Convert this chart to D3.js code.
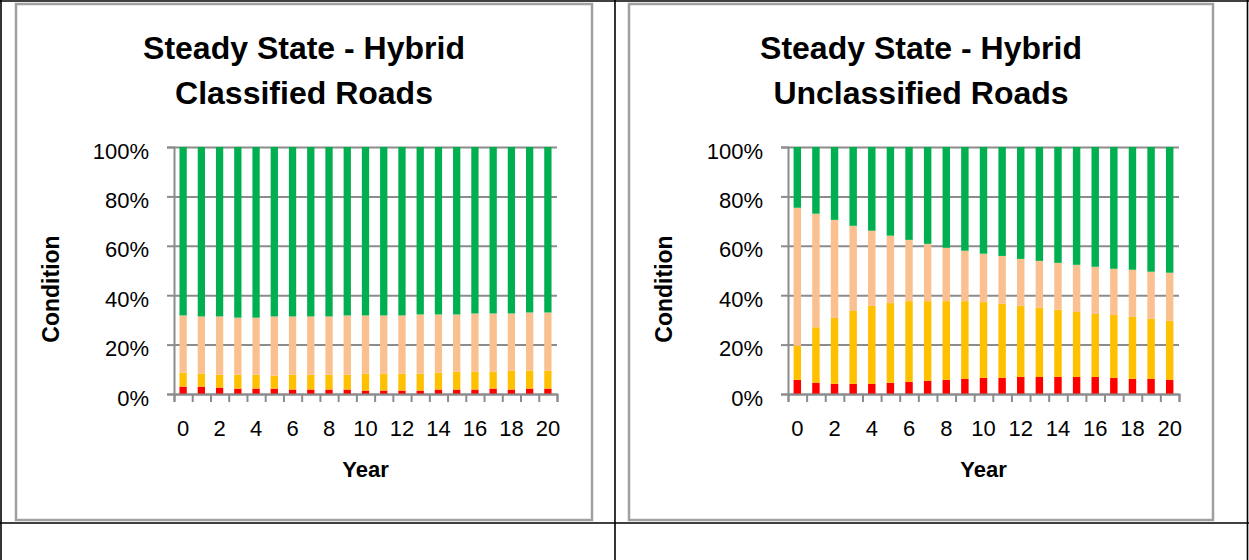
<!DOCTYPE html>
<html lang="en">
  <head>
    <meta charset="utf-8" />
    <title>Steady State - Hybrid</title>
    <script src="https://d3js.org/d3.v7.min.js"></script>
    <style>
      body { margin: 0; background: #fff; }
      text { font-family: "Liberation Sans", Arial, sans-serif; fill: #000; }
    </style>
  </head>
  <body>
    <script>
      // years on the category axis
      var years = d3.range(0, 21);
      var yTicks = [0, 20, 40, 60, 80, 100];
      var xLabels = [0, 2, 4, 6, 8, 10, 12, 14, 16, 18, 20];
      var conditions = ["red", "amber", "peach", "green"];
      var colors = { red: "#ff0000", amber: "#ffc000", peach: "#fac090", green: "#00b050" };

      // classified roads, % of network in each band
      var classRed   = [3.0,3.0,2.6,2.2,2.2,2.2,1.8,1.8,1.8,1.8,1.4,1.4,1.4,1.4,1.8,1.8,1.8,2.2,1.8,2.2,2.2];
      var classAmber = [5.6,5.2,5.2,5.6,5.6,5.2,6.0,6.0,6.0,6.0,6.8,6.8,6.8,6.8,6.8,7.3,7.3,6.9,7.7,7.3,7.3];
      var classPeach = [23.2,23.2,23.6,23.1,23.1,24.0,23.6,23.6,23.6,24.0,23.6,23.6,23.6,24.0,23.6,23.1,23.5,23.5,23.1,23.5,23.5];
      var classGreen = [68.2,68.6,68.6,69.1,69.1,68.6,68.6,68.6,68.6,68.2,68.2,68.2,68.2,67.8,67.8,67.8,67.4,67.4,67.4,67.0,67.0];

      // unclassified roads
      var unclRed   = [5.7,4.5,4.1,4.1,4.1,4.5,4.9,5.3,5.7,6.1,6.5,6.5,6.9,6.9,6.9,6.9,6.9,6.5,6.1,6.1,5.7];
      var unclAmber = [13.8,22.5,26.7,29.5,31.6,32.3,32.7,32.3,31.9,31.5,30.7,30.0,28.8,28.0,27.2,26.3,25.5,25.5,25.1,24.3,23.9];
      var unclPeach = [55.9,46.0,39.7,34.5,30.4,27.3,24.8,23.2,21.6,20.4,19.6,19.4,19.0,19.0,19.0,19.1,19.1,18.7,19.1,19.1,19.5];
      var unclGreen = [24.6,27.0,29.5,31.9,33.9,35.9,37.6,39.2,40.8,42.0,43.2,44.1,45.3,46.1,46.9,47.7,48.5,49.3,49.7,50.5,50.9];

      var width = 1249;
      var height = 560;

      var svg = d3.select("body")
        .append("svg")
        .attr("width", width)
        .attr("height", height);

      svg.append("rect").attr("width", width).attr("height", height).attr("fill", "#fff");

      // table cell lines behind the charts
      var cellLine = { stroke: "#000", w: 1.6 };
      [1, 615, 1247.5].forEach(function (x) {
        svg.append("line").attr("x1", x).attr("x2", x).attr("y1", 0).attr("y2", height)
          .attr("stroke", cellLine.stroke).attr("stroke-width", cellLine.w);
      });
      [1, 523].forEach(function (y) {
        svg.append("line").attr("x1", 0).attr("x2", width).attr("y1", y).attr("y2", y)
          .attr("stroke", cellLine.stroke).attr("stroke-width", cellLine.w);
      });

      function makeRows(red, amber, peach, green) {
        return years.map(function (yr, i) {
          return { year: yr, red: red[i], amber: amber[i], peach: peach[i], green: green[i] };
        });
      }

      function drawChart(cfg) {
        var g = svg.append("g");

        // chart frame
        g.append("rect")
          .attr("x", cfg.frame[0]).attr("y", cfg.frame[1])
          .attr("width", cfg.frame[2] - cfg.frame[0]).attr("height", cfg.frame[3] - cfg.frame[1])
          .attr("fill", "#fff").attr("stroke", "#a0a0a0").attr("stroke-width", 2.5);

        var cx = (cfg.frame[0] + cfg.frame[2]) / 2;
        g.append("text").attr("x", cx).attr("y", 59).attr("text-anchor", "middle")
          .style("font-size", "32px").style("font-weight", "bold").text(cfg.title[0]);
        g.append("text").attr("x", cx).attr("y", 104).attr("text-anchor", "middle")
          .style("font-size", "32px").style("font-weight", "bold").text(cfg.title[1]);

        var x = d3.scaleBand().domain(years).range([cfg.left, cfg.right]).padding(0);
        var xEdge = d3.scaleLinear().domain([0, years.length]).range([cfg.left, cfg.right]);
        var y = d3.scaleLinear().domain([0, 100]).range([394, 147]);

        // gridlines
        g.append("g")
          .attr("transform", "translate(" + cfg.left + ",0)")
          .call(d3.axisLeft(y).tickValues(yTicks).tickSize(-(cfg.right - cfg.left)).tickFormat(""))
          .call(function (s) {
            s.select(".domain").remove();
            s.selectAll("line").attr("stroke", "#8c8c8c").attr("stroke-width", 2);
          });

        // stacked bars
        var rows = makeRows(cfg.red, cfg.amber, cfg.peach, cfg.green);
        var stack = d3.stack().keys(conditions)(rows);
        var bw = x.bandwidth() / 2.5;
        g.append("g").selectAll("g")
          .data(stack)
          .join("g")
          .attr("fill", function (d) { return colors[d.key]; })
          .selectAll("rect")
          .data(function (d) { return d; })
          .join("rect")
          .attr("x", function (d) { return x(d.data.year) + (x.bandwidth() - bw) / 2; })
          .attr("width", bw)
          .attr("y", function (d) { return y(d[1]); })
          .attr("height", function (d) { return y(d[0]) - y(d[1]); });

        // y axis with % labels
        g.append("g")
          .attr("transform", "translate(" + cfg.left + ",0)")
          .call(d3.axisLeft(y).tickValues(yTicks).tickSize(7).tickPadding(18)
            .tickFormat(function (d) { return d + "%"; }))
          .call(function (s) {
            s.selectAll("line, .domain").attr("stroke", "#8c8c8c").attr("stroke-width", 2);
            s.selectAll("text").style("font-size", "22px").attr("dy", "0.5em")
              .style("font-family", "'Liberation Sans', Arial, sans-serif").attr("fill", "#000");
          });

        // x axis: ticks between categories
        g.append("g")
          .attr("transform", "translate(0,394)")
          .call(d3.axisBottom(xEdge).ticks(years.length).tickSize(8).tickFormat(""))
          .call(function (s) {
            s.selectAll("line, .domain").attr("stroke", "#8c8c8c").attr("stroke-width", 2);
          });

        // x labels centered under bars
        g.append("g")
          .attr("transform", "translate(0,394)")
          .call(d3.axisBottom(x).tickValues(xLabels).tickSize(0).tickPadding(26))
          .call(function (s) {
            s.select(".domain").remove();
            s.selectAll("text").style("font-size", "22px")
              .style("font-family", "'Liberation Sans', Arial, sans-serif").attr("fill", "#000");
          });

        g.append("text")
          .attr("x", (cfg.left + cfg.right) / 2).attr("y", 477).attr("text-anchor", "middle")
          .style("font-size", "22px").style("font-weight", "bold").text("Year");

        g.append("text")
          .attr("transform", "translate(" + cfg.ylabelX + ",289) rotate(-90)")
          .attr("text-anchor", "middle")
          .style("font-size", "23px").style("font-weight", "bold").text("Condition");
      }

      drawChart({
        frame: [16, 4, 592, 520],
        title: ["Steady State - Hybrid", "Classified Roads"],
        left: 174, right: 557, ylabelX: 59,
        red: classRed, amber: classAmber, peach: classPeach, green: classGreen
      });

      drawChart({
        frame: [629, 4, 1213, 520],
        title: ["Steady State - Hybrid", "Unclassified Roads"],
        left: 788, right: 1179, ylabelX: 672,
        red: unclRed, amber: unclAmber, peach: unclPeach, green: unclGreen
      });
    </script>
  </body>
</html>
